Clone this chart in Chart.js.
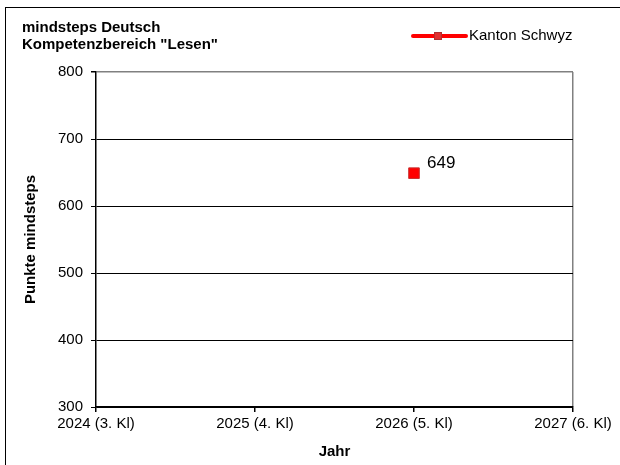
<!DOCTYPE html>
<html><head><meta charset="utf-8">
<script src="https://cdn.jsdelivr.net/npm/chart.js@4/dist/chart.umd.min.js"></script>
<style>html,body{margin:0;padding:0;background:#fff}#wrap{width:620px;height:465px}</style>
</head><body><div id="wrap"><canvas id="c" width="620" height="465"></canvas></div>
<script>
const titleLines = ['mindsteps Deutsch', 'Kompetenzbereich "Lesen"'];
const seriesName = 'Kanton Schwyz';
const years = [2024, 2025, 2026, 2027];
const yearLabels = ['2024 (3. Kl)', '2025 (4. Kl)', '2026 (5. Kl)', '2027 (6. Kl)'];
const pointYears = [2026];
const pointValues = [649];
const yTitle = 'Punkte mindsteps';
const xTitle = 'Jahr';
const FONT = 'Liberation Sans, Arial, Helvetica, sans-serif';

const decor = {
  id: 'decor',
  beforeDraw(chart) {
    const ctx = chart.ctx;
    ctx.save();
    ctx.fillStyle = '#fff';
    ctx.fillRect(0, 0, chart.width, chart.height);
    ctx.strokeStyle = '#000';
    ctx.lineWidth = 1;
    ctx.strokeRect(5.5, 7.5, 700, 600);
    ctx.restore();
  },
  afterDraw(chart) {
    const ctx = chart.ctx;
    const ca = chart.chartArea;
    ctx.save();
    // title
    ctx.fillStyle = '#000';
    ctx.font = 'bold 15px ' + FONT;
    ctx.textBaseline = 'middle';
    ctx.textAlign = 'left';
    ctx.fillText(titleLines[0], 22, 28);
    ctx.fillText(titleLines[1], 22, 45);
    // legend
    ctx.strokeStyle = '#ff0000';
    ctx.lineWidth = 4;
    ctx.lineCap = 'round';
    ctx.beginPath(); ctx.moveTo(413, 36); ctx.lineTo(466, 36); ctx.stroke();
    ctx.fillStyle = '#e03030';
    ctx.fillRect(434, 32, 8, 8);
    ctx.strokeStyle = '#b03030'; ctx.lineWidth = 1;
    ctx.strokeRect(434.5, 32.5, 7, 7);
    ctx.fillStyle = '#000';
    ctx.font = '15px ' + FONT;
    ctx.fillText(seriesName, 469, 36);
    // axis titles
    ctx.font = 'bold 15px ' + FONT;
    ctx.textAlign = 'center';
    ctx.fillText(xTitle, (ca.left + ca.right) / 2, 452);
    ctx.translate(31, (ca.top + ca.bottom) / 2);
    ctx.rotate(-Math.PI / 2);
    ctx.fillText(yTitle, 0, 0);
    ctx.restore();
    // data labels
    const meta = chart.getDatasetMeta(0);
    ctx.save();
    ctx.font = '17px ' + FONT;
    ctx.fillStyle = '#000';
    ctx.textAlign = 'left';
    ctx.textBaseline = 'middle';
    meta.data.forEach((el, i) => {
      ctx.fillText(String(pointValues[i]), el.x + 13, el.y - 10);
    });
    ctx.restore();
  }
};

new Chart(document.getElementById('c'), {
  type: 'line',
  data: {
    datasets: [{
      label: seriesName,
      data: pointYears.map((x, i) => ({ x: x, y: pointValues[i] })),
      borderColor: '#ff0000',
      borderWidth: 4,
      pointStyle: 'rect',
      pointRadius: 7.5,
      pointBackgroundColor: '#ff0000',
      pointBorderColor: '#c83030',
      pointBorderWidth: 1,
      showLine: false
    }]
  },
  options: {
    responsive: false,
    animation: false,
    devicePixelRatio: 1,
    layout: { padding: { top: 72, right: 47, left: 0, bottom: 0 } },
    plugins: { legend: { display: false }, title: { display: false }, tooltip: { enabled: false } },
    scales: {
      x: {
        type: 'linear',
        min: years[0], max: years[years.length - 1],
        afterFit(s) { s.height = 58; },
        afterBuildTicks(s) { s.ticks = years.map(v => ({ value: v })); },
        ticks: {
          autoSkip: false, maxRotation: 0, padding: 3,
          color: '#000', font: { family: FONT, size: 15 },
          callback: (v) => yearLabels[years.indexOf(v)]
        },
        grid: {
          drawOnChartArea: true,
          color: (c) => c.tick && c.tick.value === years[years.length - 1] ? '#808080' : 'rgba(0,0,0,0)',
          tickColor: '#000', tickLength: 5, lineWidth: 1.5
        },
        border: { display: true, color: '#000', width: 1.5 }
      },
      y: {
        min: 300, max: 800,
        afterFit(s) { s.width = 96; },
        ticks: { stepSize: 100, color: '#000', font: { family: FONT, size: 15 }, padding: 8 },
        grid: {
          color: (c) => c.tick && c.tick.value === 800 ? '#808080' : '#000',
          lineWidth: (c) => c.tick && c.tick.value === 800 ? 1.5 : 1,
          tickColor: '#000', tickLength: 5
        },
        border: { display: true, color: '#000', width: 1.5 }
      }
    }
  },
  plugins: [decor]
});
</script>
</body></html>
